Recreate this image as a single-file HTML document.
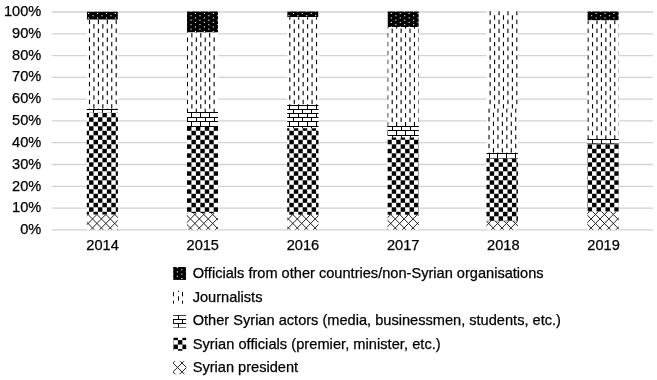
<!DOCTYPE html>
<html><head><meta charset="utf-8"><style>
html,body{margin:0;padding:0;background:#fff;}
body{width:657px;height:380px;overflow:hidden;}
svg{display:block;will-change:transform;}
text{font-family:"Liberation Sans",sans-serif;font-size:14.6px;fill:#000;stroke:#000;stroke-width:0.25px;}
</style></head><body>
<svg width="657" height="380" viewBox="0 0 657 380">
<defs><clipPath id="c1"><rect x="86.8" y="214.5" width="31.1" height="15.35"/></clipPath><clipPath id="c2"><rect x="86.8" y="112.7" width="31.1" height="101.8"/></clipPath><clipPath id="c3"><rect x="86.8" y="109" width="31.1" height="3.7"/></clipPath><clipPath id="c4"><rect x="86.8" y="19.7" width="31.1" height="89.3"/></clipPath><clipPath id="c5"><rect x="86.8" y="11.4" width="31.1" height="8.3"/></clipPath><clipPath id="c6"><rect x="186.9" y="213" width="31.1" height="16.85"/></clipPath><clipPath id="c7"><rect x="186.9" y="127" width="31.1" height="86"/></clipPath><clipPath id="c8"><rect x="186.9" y="112" width="31.1" height="15"/></clipPath><clipPath id="c9"><rect x="186.9" y="32.5" width="31.1" height="80.2"/></clipPath><clipPath id="c10"><rect x="186.9" y="11.3" width="31.1" height="21.2"/></clipPath><clipPath id="c11"><rect x="287.2" y="214.8" width="31.3" height="15.05"/></clipPath><clipPath id="c12"><rect x="287.2" y="128.3" width="31.3" height="86.5"/></clipPath><clipPath id="c13"><rect x="287.2" y="105" width="31.3" height="23.3"/></clipPath><clipPath id="c14"><rect x="287.2" y="17.2" width="31.3" height="88.1"/></clipPath><clipPath id="c15"><rect x="287.2" y="11.3" width="31.3" height="5.9"/></clipPath><clipPath id="c16"><rect x="387.5" y="214.7" width="31.3" height="15.15"/></clipPath><clipPath id="c17"><rect x="387.5" y="137.4" width="31.3" height="77.3"/></clipPath><clipPath id="c18"><rect x="387.5" y="126" width="31.3" height="11.4"/></clipPath><clipPath id="c19"><rect x="387.5" y="27.1" width="31.3" height="99.5"/></clipPath><clipPath id="c20"><rect x="387.5" y="11.3" width="31.3" height="15.8"/></clipPath><clipPath id="c21"><rect x="486.5" y="221.2" width="31.4" height="8.65"/></clipPath><clipPath id="c22"><rect x="486.5" y="158.5" width="31.4" height="62.7"/></clipPath><clipPath id="c23"><rect x="486.5" y="153" width="31.4" height="5.5"/></clipPath><clipPath id="c24"><rect x="486.5" y="11.3" width="31.4" height="97.5"/></clipPath><clipPath id="c25"><rect x="486.5" y="108.8" width="31.4" height="44.6"/></clipPath><clipPath id="c26"><rect x="587.3" y="211.5" width="31.5" height="18.35"/></clipPath><clipPath id="c27"><rect x="587.3" y="143.4" width="31.5" height="68.1"/></clipPath><clipPath id="c28"><rect x="587.3" y="139" width="31.5" height="4.4"/></clipPath><clipPath id="c29"><rect x="587.3" y="20.4" width="31.5" height="118.9"/></clipPath><clipPath id="c30"><rect x="587.3" y="11.3" width="31.5" height="9.1"/></clipPath><clipPath id="c31"><rect x="173.1" y="266.9" width="13.1" height="13"/></clipPath><clipPath id="c32"><rect x="173.1" y="290.8" width="13.1" height="13"/></clipPath><clipPath id="c33"><rect x="173.1" y="315.3" width="13.1" height="12.3"/></clipPath><clipPath id="c34"><rect x="173.1" y="337.8" width="13.1" height="13"/></clipPath><clipPath id="c35"><rect x="173.1" y="361.2" width="13.1" height="13"/></clipPath></defs>
<rect width="657" height="380" fill="#fff"/>
<g><line x1="51.8" y1="12" x2="652.9" y2="12" stroke="#d2d2d2" stroke-width="1.3"/><line x1="51.8" y1="33.78" x2="652.9" y2="33.78" stroke="#d2d2d2" stroke-width="1.3"/><line x1="51.8" y1="55.57" x2="652.9" y2="55.57" stroke="#d2d2d2" stroke-width="1.3"/><line x1="51.8" y1="77.35" x2="652.9" y2="77.35" stroke="#d2d2d2" stroke-width="1.3"/><line x1="51.8" y1="99.14" x2="652.9" y2="99.14" stroke="#d2d2d2" stroke-width="1.3"/><line x1="51.8" y1="120.92" x2="652.9" y2="120.92" stroke="#d2d2d2" stroke-width="1.3"/><line x1="51.8" y1="142.71" x2="652.9" y2="142.71" stroke="#d2d2d2" stroke-width="1.3"/><line x1="51.8" y1="164.5" x2="652.9" y2="164.5" stroke="#d2d2d2" stroke-width="1.3"/><line x1="51.8" y1="186.28" x2="652.9" y2="186.28" stroke="#d2d2d2" stroke-width="1.3"/><line x1="51.8" y1="208.06" x2="652.9" y2="208.06" stroke="#d2d2d2" stroke-width="1.3"/><line x1="51.8" y1="229.85" x2="652.9" y2="229.85" stroke="#d2d2d2" stroke-width="1.3"/></g>
<g shape-rendering="auto"><rect x="86.8" y="11.4" width="31.1" height="218.45" fill="#fff"/><g clip-path="url(#c1)"><path d="M83.6 209.95L92.5 218.95M92.5 209.95L83.6 218.95M92.5 209.95L101.4 218.95M101.4 209.95L92.5 218.95M101.4 209.95L110.31 218.95M110.31 209.95L101.4 218.95M110.31 209.95L119.21 218.95M119.21 209.95L110.31 218.95M83.6 218.95L92.5 227.95M92.5 218.95L83.6 227.95M92.5 218.95L101.4 227.95M101.4 218.95L92.5 227.95M101.4 218.95L110.31 227.95M110.31 218.95L101.4 227.95M110.31 218.95L119.21 227.95M119.21 218.95L110.31 227.95M83.6 227.95L92.5 236.95M92.5 227.95L83.6 236.95M92.5 227.95L101.4 236.95M101.4 227.95L92.5 236.95M101.4 227.95L110.31 236.95M110.31 227.95L101.4 236.95M110.31 227.95L119.21 236.95M119.21 227.95L110.31 236.95" stroke="#222" stroke-width="1.0" fill="none"/></g><g clip-path="url(#c2)"><rect x="89.05" y="108.3" width="4.45" height="4.5"/><rect x="97.95" y="108.3" width="4.45" height="4.5"/><rect x="106.86" y="108.3" width="4.45" height="4.5"/><rect x="115.76" y="108.3" width="4.45" height="4.5"/><rect x="84.6" y="112.8" width="4.45" height="4.5"/><rect x="89.05" y="117.3" width="4.45" height="4.5"/><rect x="93.5" y="112.8" width="4.45" height="4.5"/><rect x="97.95" y="117.3" width="4.45" height="4.5"/><rect x="102.41" y="112.8" width="4.45" height="4.5"/><rect x="106.86" y="117.3" width="4.45" height="4.5"/><rect x="111.31" y="112.8" width="4.45" height="4.5"/><rect x="115.76" y="117.3" width="4.45" height="4.5"/><rect x="84.6" y="121.8" width="4.45" height="4.5"/><rect x="89.05" y="126.3" width="4.45" height="4.5"/><rect x="93.5" y="121.8" width="4.45" height="4.5"/><rect x="97.95" y="126.3" width="4.45" height="4.5"/><rect x="102.41" y="121.8" width="4.45" height="4.5"/><rect x="106.86" y="126.3" width="4.45" height="4.5"/><rect x="111.31" y="121.8" width="4.45" height="4.5"/><rect x="115.76" y="126.3" width="4.45" height="4.5"/><rect x="84.6" y="130.8" width="4.45" height="4.5"/><rect x="89.05" y="135.3" width="4.45" height="4.5"/><rect x="93.5" y="130.8" width="4.45" height="4.5"/><rect x="97.95" y="135.3" width="4.45" height="4.5"/><rect x="102.41" y="130.8" width="4.45" height="4.5"/><rect x="106.86" y="135.3" width="4.45" height="4.5"/><rect x="111.31" y="130.8" width="4.45" height="4.5"/><rect x="115.76" y="135.3" width="4.45" height="4.5"/><rect x="84.6" y="139.8" width="4.45" height="4.5"/><rect x="89.05" y="144.3" width="4.45" height="4.5"/><rect x="93.5" y="139.8" width="4.45" height="4.5"/><rect x="97.95" y="144.3" width="4.45" height="4.5"/><rect x="102.41" y="139.8" width="4.45" height="4.5"/><rect x="106.86" y="144.3" width="4.45" height="4.5"/><rect x="111.31" y="139.8" width="4.45" height="4.5"/><rect x="115.76" y="144.3" width="4.45" height="4.5"/><rect x="84.6" y="148.8" width="4.45" height="4.5"/><rect x="89.05" y="153.3" width="4.45" height="4.5"/><rect x="93.5" y="148.8" width="4.45" height="4.5"/><rect x="97.95" y="153.3" width="4.45" height="4.5"/><rect x="102.41" y="148.8" width="4.45" height="4.5"/><rect x="106.86" y="153.3" width="4.45" height="4.5"/><rect x="111.31" y="148.8" width="4.45" height="4.5"/><rect x="115.76" y="153.3" width="4.45" height="4.5"/><rect x="84.6" y="157.8" width="4.45" height="4.5"/><rect x="89.05" y="162.3" width="4.45" height="4.5"/><rect x="93.5" y="157.8" width="4.45" height="4.5"/><rect x="97.95" y="162.3" width="4.45" height="4.5"/><rect x="102.41" y="157.8" width="4.45" height="4.5"/><rect x="106.86" y="162.3" width="4.45" height="4.5"/><rect x="111.31" y="157.8" width="4.45" height="4.5"/><rect x="115.76" y="162.3" width="4.45" height="4.5"/><rect x="84.6" y="166.8" width="4.45" height="4.5"/><rect x="89.05" y="171.3" width="4.45" height="4.5"/><rect x="93.5" y="166.8" width="4.45" height="4.5"/><rect x="97.95" y="171.3" width="4.45" height="4.5"/><rect x="102.41" y="166.8" width="4.45" height="4.5"/><rect x="106.86" y="171.3" width="4.45" height="4.5"/><rect x="111.31" y="166.8" width="4.45" height="4.5"/><rect x="115.76" y="171.3" width="4.45" height="4.5"/><rect x="84.6" y="175.8" width="4.45" height="4.5"/><rect x="89.05" y="180.3" width="4.45" height="4.5"/><rect x="93.5" y="175.8" width="4.45" height="4.5"/><rect x="97.95" y="180.3" width="4.45" height="4.5"/><rect x="102.41" y="175.8" width="4.45" height="4.5"/><rect x="106.86" y="180.3" width="4.45" height="4.5"/><rect x="111.31" y="175.8" width="4.45" height="4.5"/><rect x="115.76" y="180.3" width="4.45" height="4.5"/><rect x="84.6" y="184.8" width="4.45" height="4.5"/><rect x="89.05" y="189.3" width="4.45" height="4.5"/><rect x="93.5" y="184.8" width="4.45" height="4.5"/><rect x="97.95" y="189.3" width="4.45" height="4.5"/><rect x="102.41" y="184.8" width="4.45" height="4.5"/><rect x="106.86" y="189.3" width="4.45" height="4.5"/><rect x="111.31" y="184.8" width="4.45" height="4.5"/><rect x="115.76" y="189.3" width="4.45" height="4.5"/><rect x="84.6" y="193.8" width="4.45" height="4.5"/><rect x="89.05" y="198.3" width="4.45" height="4.5"/><rect x="93.5" y="193.8" width="4.45" height="4.5"/><rect x="97.95" y="198.3" width="4.45" height="4.5"/><rect x="102.41" y="193.8" width="4.45" height="4.5"/><rect x="106.86" y="198.3" width="4.45" height="4.5"/><rect x="111.31" y="193.8" width="4.45" height="4.5"/><rect x="115.76" y="198.3" width="4.45" height="4.5"/><rect x="84.6" y="202.8" width="4.45" height="4.5"/><rect x="89.05" y="207.3" width="4.45" height="4.5"/><rect x="93.5" y="202.8" width="4.45" height="4.5"/><rect x="97.95" y="207.3" width="4.45" height="4.5"/><rect x="102.41" y="202.8" width="4.45" height="4.5"/><rect x="106.86" y="207.3" width="4.45" height="4.5"/><rect x="111.31" y="202.8" width="4.45" height="4.5"/><rect x="115.76" y="207.3" width="4.45" height="4.5"/><rect x="84.6" y="211.8" width="4.45" height="4.5"/><rect x="93.5" y="211.8" width="4.45" height="4.5"/><rect x="102.41" y="211.8" width="4.45" height="4.5"/><rect x="111.31" y="211.8" width="4.45" height="4.5"/></g><g clip-path="url(#c3)"><rect x="84" y="109" width="9" height="1"/><rect x="93" y="109" width="9" height="1"/><rect x="93" y="109" width="1" height="4"/><rect x="102" y="109" width="9" height="1"/><rect x="102" y="109" width="1" height="4"/><rect x="111" y="109" width="9" height="1"/><rect x="111" y="109" width="1" height="4"/></g><g clip-path="url(#c4)"><rect x="88.94" y="19.7" width="1.11" height="4.45"/><rect x="93.39" y="24.14" width="1.11" height="4.45"/><rect x="97.84" y="19.7" width="1.11" height="4.45"/><rect x="102.29" y="24.14" width="1.11" height="4.45"/><rect x="106.75" y="19.7" width="1.11" height="4.45"/><rect x="111.2" y="24.14" width="1.11" height="4.45"/><rect x="115.65" y="19.7" width="1.11" height="4.45"/><rect x="88.94" y="28.59" width="1.11" height="4.45"/><rect x="93.39" y="33.03" width="1.11" height="4.45"/><rect x="97.84" y="28.59" width="1.11" height="4.45"/><rect x="102.29" y="33.03" width="1.11" height="4.45"/><rect x="106.75" y="28.59" width="1.11" height="4.45"/><rect x="111.2" y="33.03" width="1.11" height="4.45"/><rect x="115.65" y="28.59" width="1.11" height="4.45"/><rect x="88.94" y="37.48" width="1.11" height="4.45"/><rect x="93.39" y="41.93" width="1.11" height="4.45"/><rect x="97.84" y="37.48" width="1.11" height="4.45"/><rect x="102.29" y="41.93" width="1.11" height="4.45"/><rect x="106.75" y="37.48" width="1.11" height="4.45"/><rect x="111.2" y="41.93" width="1.11" height="4.45"/><rect x="115.65" y="37.48" width="1.11" height="4.45"/><rect x="88.94" y="46.37" width="1.11" height="4.45"/><rect x="93.39" y="50.82" width="1.11" height="4.45"/><rect x="97.84" y="46.37" width="1.11" height="4.45"/><rect x="102.29" y="50.82" width="1.11" height="4.45"/><rect x="106.75" y="46.37" width="1.11" height="4.45"/><rect x="111.2" y="50.82" width="1.11" height="4.45"/><rect x="115.65" y="46.37" width="1.11" height="4.45"/><rect x="88.94" y="55.26" width="1.11" height="4.45"/><rect x="93.39" y="59.71" width="1.11" height="4.45"/><rect x="97.84" y="55.26" width="1.11" height="4.45"/><rect x="102.29" y="59.71" width="1.11" height="4.45"/><rect x="106.75" y="55.26" width="1.11" height="4.45"/><rect x="111.2" y="59.71" width="1.11" height="4.45"/><rect x="115.65" y="55.26" width="1.11" height="4.45"/><rect x="88.94" y="64.15" width="1.11" height="4.45"/><rect x="93.39" y="68.59" width="1.11" height="4.45"/><rect x="97.84" y="64.15" width="1.11" height="4.45"/><rect x="102.29" y="68.59" width="1.11" height="4.45"/><rect x="106.75" y="64.15" width="1.11" height="4.45"/><rect x="111.2" y="68.59" width="1.11" height="4.45"/><rect x="115.65" y="64.15" width="1.11" height="4.45"/><rect x="88.94" y="73.04" width="1.11" height="4.45"/><rect x="93.39" y="77.49" width="1.11" height="4.45"/><rect x="97.84" y="73.04" width="1.11" height="4.45"/><rect x="102.29" y="77.49" width="1.11" height="4.45"/><rect x="106.75" y="73.04" width="1.11" height="4.45"/><rect x="111.2" y="77.49" width="1.11" height="4.45"/><rect x="115.65" y="73.04" width="1.11" height="4.45"/><rect x="88.94" y="81.93" width="1.11" height="4.45"/><rect x="93.39" y="86.38" width="1.11" height="4.45"/><rect x="97.84" y="81.93" width="1.11" height="4.45"/><rect x="102.29" y="86.38" width="1.11" height="4.45"/><rect x="106.75" y="81.93" width="1.11" height="4.45"/><rect x="111.2" y="86.38" width="1.11" height="4.45"/><rect x="115.65" y="81.93" width="1.11" height="4.45"/><rect x="88.94" y="90.82" width="1.11" height="4.45"/><rect x="93.39" y="95.27" width="1.11" height="4.45"/><rect x="97.84" y="90.82" width="1.11" height="4.45"/><rect x="102.29" y="95.27" width="1.11" height="4.45"/><rect x="106.75" y="90.82" width="1.11" height="4.45"/><rect x="111.2" y="95.27" width="1.11" height="4.45"/><rect x="115.65" y="90.82" width="1.11" height="4.45"/><rect x="88.94" y="99.71" width="1.11" height="4.45"/><rect x="93.39" y="104.16" width="1.11" height="4.45"/><rect x="97.84" y="99.71" width="1.11" height="4.45"/><rect x="102.29" y="104.16" width="1.11" height="4.45"/><rect x="106.75" y="99.71" width="1.11" height="4.45"/><rect x="111.2" y="104.16" width="1.11" height="4.45"/><rect x="115.65" y="99.71" width="1.11" height="4.45"/><rect x="88.94" y="108.6" width="1.11" height="4.45"/><rect x="97.84" y="108.6" width="1.11" height="4.45"/><rect x="106.75" y="108.6" width="1.11" height="4.45"/><rect x="115.65" y="108.6" width="1.11" height="4.45"/></g><g clip-path="url(#c5)"><rect x="86.8" y="11.4" width="31.1" height="8.3" fill="#000"/><g fill="#fff"><rect x="92.56" y="10.64" width="1.11" height="1.12"/><rect x="101.46" y="10.64" width="1.11" height="1.12"/><rect x="110.36" y="10.64" width="1.11" height="1.12"/><rect x="88.1" y="12.89" width="1.11" height="1.12"/><rect x="88.1" y="17.39" width="1.11" height="1.12"/><rect x="92.56" y="15.14" width="1.11" height="1.12"/><rect x="92.56" y="19.64" width="1.11" height="1.12"/><rect x="97.01" y="12.89" width="1.11" height="1.12"/><rect x="97.01" y="17.39" width="1.11" height="1.12"/><rect x="101.46" y="15.14" width="1.11" height="1.12"/><rect x="101.46" y="19.64" width="1.11" height="1.12"/><rect x="105.91" y="12.89" width="1.11" height="1.12"/><rect x="105.91" y="17.39" width="1.11" height="1.12"/><rect x="110.36" y="15.14" width="1.11" height="1.12"/><rect x="110.36" y="19.64" width="1.11" height="1.12"/><rect x="114.81" y="12.89" width="1.11" height="1.12"/><rect x="114.81" y="17.39" width="1.11" height="1.12"/></g></g><rect x="186.9" y="11.3" width="31.1" height="218.55" fill="#fff"/><g clip-path="url(#c6)"><path d="M181.53 209.95L190.43 218.95M190.43 209.95L181.53 218.95M190.43 209.95L199.34 218.95M199.34 209.95L190.43 218.95M199.34 209.95L208.24 218.95M208.24 209.95L199.34 218.95M208.24 209.95L217.14 218.95M217.14 209.95L208.24 218.95M217.14 209.95L226.04 218.95M226.04 209.95L217.14 218.95M181.53 218.95L190.43 227.95M190.43 218.95L181.53 227.95M190.43 218.95L199.34 227.95M199.34 218.95L190.43 227.95M199.34 218.95L208.24 227.95M208.24 218.95L199.34 227.95M208.24 218.95L217.14 227.95M217.14 218.95L208.24 227.95M217.14 218.95L226.04 227.95M226.04 218.95L217.14 227.95M181.53 227.95L190.43 236.95M190.43 227.95L181.53 236.95M190.43 227.95L199.34 236.95M199.34 227.95L190.43 236.95M199.34 227.95L208.24 236.95M208.24 227.95L199.34 236.95M208.24 227.95L217.14 236.95M217.14 227.95L208.24 236.95M217.14 227.95L226.04 236.95M226.04 227.95L217.14 236.95" stroke="#222" stroke-width="1.0" fill="none"/></g><g clip-path="url(#c7)"><rect x="186.98" y="126.3" width="4.45" height="4.5"/><rect x="195.89" y="126.3" width="4.45" height="4.5"/><rect x="204.79" y="126.3" width="4.45" height="4.5"/><rect x="213.69" y="126.3" width="4.45" height="4.5"/><rect x="182.53" y="130.8" width="4.45" height="4.5"/><rect x="186.98" y="135.3" width="4.45" height="4.5"/><rect x="191.44" y="130.8" width="4.45" height="4.5"/><rect x="195.89" y="135.3" width="4.45" height="4.5"/><rect x="200.34" y="130.8" width="4.45" height="4.5"/><rect x="204.79" y="135.3" width="4.45" height="4.5"/><rect x="209.24" y="130.8" width="4.45" height="4.5"/><rect x="213.69" y="135.3" width="4.45" height="4.5"/><rect x="182.53" y="139.8" width="4.45" height="4.5"/><rect x="186.98" y="144.3" width="4.45" height="4.5"/><rect x="191.44" y="139.8" width="4.45" height="4.5"/><rect x="195.89" y="144.3" width="4.45" height="4.5"/><rect x="200.34" y="139.8" width="4.45" height="4.5"/><rect x="204.79" y="144.3" width="4.45" height="4.5"/><rect x="209.24" y="139.8" width="4.45" height="4.5"/><rect x="213.69" y="144.3" width="4.45" height="4.5"/><rect x="182.53" y="148.8" width="4.45" height="4.5"/><rect x="186.98" y="153.3" width="4.45" height="4.5"/><rect x="191.44" y="148.8" width="4.45" height="4.5"/><rect x="195.89" y="153.3" width="4.45" height="4.5"/><rect x="200.34" y="148.8" width="4.45" height="4.5"/><rect x="204.79" y="153.3" width="4.45" height="4.5"/><rect x="209.24" y="148.8" width="4.45" height="4.5"/><rect x="213.69" y="153.3" width="4.45" height="4.5"/><rect x="182.53" y="157.8" width="4.45" height="4.5"/><rect x="186.98" y="162.3" width="4.45" height="4.5"/><rect x="191.44" y="157.8" width="4.45" height="4.5"/><rect x="195.89" y="162.3" width="4.45" height="4.5"/><rect x="200.34" y="157.8" width="4.45" height="4.5"/><rect x="204.79" y="162.3" width="4.45" height="4.5"/><rect x="209.24" y="157.8" width="4.45" height="4.5"/><rect x="213.69" y="162.3" width="4.45" height="4.5"/><rect x="182.53" y="166.8" width="4.45" height="4.5"/><rect x="186.98" y="171.3" width="4.45" height="4.5"/><rect x="191.44" y="166.8" width="4.45" height="4.5"/><rect x="195.89" y="171.3" width="4.45" height="4.5"/><rect x="200.34" y="166.8" width="4.45" height="4.5"/><rect x="204.79" y="171.3" width="4.45" height="4.5"/><rect x="209.24" y="166.8" width="4.45" height="4.5"/><rect x="213.69" y="171.3" width="4.45" height="4.5"/><rect x="182.53" y="175.8" width="4.45" height="4.5"/><rect x="186.98" y="180.3" width="4.45" height="4.5"/><rect x="191.44" y="175.8" width="4.45" height="4.5"/><rect x="195.89" y="180.3" width="4.45" height="4.5"/><rect x="200.34" y="175.8" width="4.45" height="4.5"/><rect x="204.79" y="180.3" width="4.45" height="4.5"/><rect x="209.24" y="175.8" width="4.45" height="4.5"/><rect x="213.69" y="180.3" width="4.45" height="4.5"/><rect x="182.53" y="184.8" width="4.45" height="4.5"/><rect x="186.98" y="189.3" width="4.45" height="4.5"/><rect x="191.44" y="184.8" width="4.45" height="4.5"/><rect x="195.89" y="189.3" width="4.45" height="4.5"/><rect x="200.34" y="184.8" width="4.45" height="4.5"/><rect x="204.79" y="189.3" width="4.45" height="4.5"/><rect x="209.24" y="184.8" width="4.45" height="4.5"/><rect x="213.69" y="189.3" width="4.45" height="4.5"/><rect x="182.53" y="193.8" width="4.45" height="4.5"/><rect x="186.98" y="198.3" width="4.45" height="4.5"/><rect x="191.44" y="193.8" width="4.45" height="4.5"/><rect x="195.89" y="198.3" width="4.45" height="4.5"/><rect x="200.34" y="193.8" width="4.45" height="4.5"/><rect x="204.79" y="198.3" width="4.45" height="4.5"/><rect x="209.24" y="193.8" width="4.45" height="4.5"/><rect x="213.69" y="198.3" width="4.45" height="4.5"/><rect x="182.53" y="202.8" width="4.45" height="4.5"/><rect x="186.98" y="207.3" width="4.45" height="4.5"/><rect x="191.44" y="202.8" width="4.45" height="4.5"/><rect x="195.89" y="207.3" width="4.45" height="4.5"/><rect x="200.34" y="202.8" width="4.45" height="4.5"/><rect x="204.79" y="207.3" width="4.45" height="4.5"/><rect x="209.24" y="202.8" width="4.45" height="4.5"/><rect x="213.69" y="207.3" width="4.45" height="4.5"/><rect x="182.53" y="211.8" width="4.45" height="4.5"/><rect x="191.44" y="211.8" width="4.45" height="4.5"/><rect x="200.34" y="211.8" width="4.45" height="4.5"/><rect x="209.24" y="211.8" width="4.45" height="4.5"/></g><g clip-path="url(#c8)"><rect x="187" y="108" width="1" height="5"/><rect x="196" y="108" width="1" height="5"/><rect x="205" y="108" width="1" height="5"/><rect x="214" y="108" width="1" height="5"/><rect x="183" y="112" width="8" height="1"/><rect x="183" y="117" width="8" height="1"/><rect x="187" y="117" width="1" height="5"/><rect x="191" y="112" width="9" height="1"/><rect x="191" y="113" width="1" height="4"/><rect x="191" y="117" width="9" height="1"/><rect x="196" y="117" width="1" height="5"/><rect x="200" y="112" width="9" height="1"/><rect x="200" y="113" width="1" height="4"/><rect x="200" y="117" width="9" height="1"/><rect x="205" y="117" width="1" height="5"/><rect x="209" y="112" width="9" height="1"/><rect x="209" y="113" width="1" height="4"/><rect x="209" y="117" width="9" height="1"/><rect x="214" y="117" width="1" height="5"/><rect x="183" y="121" width="8" height="1"/><rect x="183" y="126" width="8" height="1"/><rect x="187" y="126" width="1" height="5"/><rect x="191" y="121" width="9" height="1"/><rect x="191" y="122" width="1" height="4"/><rect x="191" y="126" width="9" height="1"/><rect x="196" y="126" width="1" height="5"/><rect x="200" y="121" width="9" height="1"/><rect x="200" y="122" width="1" height="4"/><rect x="200" y="126" width="9" height="1"/><rect x="205" y="126" width="1" height="5"/><rect x="209" y="121" width="9" height="1"/><rect x="209" y="122" width="1" height="4"/><rect x="209" y="126" width="9" height="1"/><rect x="214" y="126" width="1" height="5"/></g><g clip-path="url(#c9)"><rect x="186.87" y="28.59" width="1.11" height="4.45"/><rect x="191.32" y="33.03" width="1.11" height="4.45"/><rect x="195.78" y="28.59" width="1.11" height="4.45"/><rect x="200.23" y="33.03" width="1.11" height="4.45"/><rect x="204.68" y="28.59" width="1.11" height="4.45"/><rect x="209.13" y="33.03" width="1.11" height="4.45"/><rect x="213.58" y="28.59" width="1.11" height="4.45"/><rect x="186.87" y="37.48" width="1.11" height="4.45"/><rect x="191.32" y="41.93" width="1.11" height="4.45"/><rect x="195.78" y="37.48" width="1.11" height="4.45"/><rect x="200.23" y="41.93" width="1.11" height="4.45"/><rect x="204.68" y="37.48" width="1.11" height="4.45"/><rect x="209.13" y="41.93" width="1.11" height="4.45"/><rect x="213.58" y="37.48" width="1.11" height="4.45"/><rect x="186.87" y="46.37" width="1.11" height="4.45"/><rect x="191.32" y="50.82" width="1.11" height="4.45"/><rect x="195.78" y="46.37" width="1.11" height="4.45"/><rect x="200.23" y="50.82" width="1.11" height="4.45"/><rect x="204.68" y="46.37" width="1.11" height="4.45"/><rect x="209.13" y="50.82" width="1.11" height="4.45"/><rect x="213.58" y="46.37" width="1.11" height="4.45"/><rect x="186.87" y="55.26" width="1.11" height="4.45"/><rect x="191.32" y="59.71" width="1.11" height="4.45"/><rect x="195.78" y="55.26" width="1.11" height="4.45"/><rect x="200.23" y="59.71" width="1.11" height="4.45"/><rect x="204.68" y="55.26" width="1.11" height="4.45"/><rect x="209.13" y="59.71" width="1.11" height="4.45"/><rect x="213.58" y="55.26" width="1.11" height="4.45"/><rect x="186.87" y="64.15" width="1.11" height="4.45"/><rect x="191.32" y="68.59" width="1.11" height="4.45"/><rect x="195.78" y="64.15" width="1.11" height="4.45"/><rect x="200.23" y="68.59" width="1.11" height="4.45"/><rect x="204.68" y="64.15" width="1.11" height="4.45"/><rect x="209.13" y="68.59" width="1.11" height="4.45"/><rect x="213.58" y="64.15" width="1.11" height="4.45"/><rect x="186.87" y="73.04" width="1.11" height="4.45"/><rect x="191.32" y="77.49" width="1.11" height="4.45"/><rect x="195.78" y="73.04" width="1.11" height="4.45"/><rect x="200.23" y="77.49" width="1.11" height="4.45"/><rect x="204.68" y="73.04" width="1.11" height="4.45"/><rect x="209.13" y="77.49" width="1.11" height="4.45"/><rect x="213.58" y="73.04" width="1.11" height="4.45"/><rect x="186.87" y="81.93" width="1.11" height="4.45"/><rect x="191.32" y="86.38" width="1.11" height="4.45"/><rect x="195.78" y="81.93" width="1.11" height="4.45"/><rect x="200.23" y="86.38" width="1.11" height="4.45"/><rect x="204.68" y="81.93" width="1.11" height="4.45"/><rect x="209.13" y="86.38" width="1.11" height="4.45"/><rect x="213.58" y="81.93" width="1.11" height="4.45"/><rect x="186.87" y="90.82" width="1.11" height="4.45"/><rect x="191.32" y="95.27" width="1.11" height="4.45"/><rect x="195.78" y="90.82" width="1.11" height="4.45"/><rect x="200.23" y="95.27" width="1.11" height="4.45"/><rect x="204.68" y="90.82" width="1.11" height="4.45"/><rect x="209.13" y="95.27" width="1.11" height="4.45"/><rect x="213.58" y="90.82" width="1.11" height="4.45"/><rect x="186.87" y="99.71" width="1.11" height="4.45"/><rect x="191.32" y="104.16" width="1.11" height="4.45"/><rect x="195.78" y="99.71" width="1.11" height="4.45"/><rect x="200.23" y="104.16" width="1.11" height="4.45"/><rect x="204.68" y="99.71" width="1.11" height="4.45"/><rect x="209.13" y="104.16" width="1.11" height="4.45"/><rect x="213.58" y="99.71" width="1.11" height="4.45"/><rect x="186.87" y="108.6" width="1.11" height="4.45"/><rect x="195.78" y="108.6" width="1.11" height="4.45"/><rect x="204.68" y="108.6" width="1.11" height="4.45"/><rect x="213.58" y="108.6" width="1.11" height="4.45"/></g><g clip-path="url(#c10)"><rect x="186.9" y="11.3" width="31.1" height="21.2" fill="#000"/><g fill="#fff"><rect x="190.49" y="10.64" width="1.11" height="1.12"/><rect x="199.39" y="10.64" width="1.11" height="1.12"/><rect x="208.29" y="10.64" width="1.11" height="1.12"/><rect x="217.2" y="10.64" width="1.11" height="1.12"/><rect x="186.04" y="12.89" width="1.11" height="1.12"/><rect x="186.04" y="17.39" width="1.11" height="1.12"/><rect x="190.49" y="15.14" width="1.11" height="1.12"/><rect x="190.49" y="19.64" width="1.11" height="1.12"/><rect x="194.94" y="12.89" width="1.11" height="1.12"/><rect x="194.94" y="17.39" width="1.11" height="1.12"/><rect x="199.39" y="15.14" width="1.11" height="1.12"/><rect x="199.39" y="19.64" width="1.11" height="1.12"/><rect x="203.84" y="12.89" width="1.11" height="1.12"/><rect x="203.84" y="17.39" width="1.11" height="1.12"/><rect x="208.29" y="15.14" width="1.11" height="1.12"/><rect x="208.29" y="19.64" width="1.11" height="1.12"/><rect x="212.75" y="12.89" width="1.11" height="1.12"/><rect x="212.75" y="17.39" width="1.11" height="1.12"/><rect x="217.2" y="15.14" width="1.11" height="1.12"/><rect x="217.2" y="19.64" width="1.11" height="1.12"/><rect x="186.04" y="21.89" width="1.11" height="1.12"/><rect x="186.04" y="26.39" width="1.11" height="1.12"/><rect x="190.49" y="24.14" width="1.11" height="1.12"/><rect x="190.49" y="28.64" width="1.11" height="1.12"/><rect x="194.94" y="21.89" width="1.11" height="1.12"/><rect x="194.94" y="26.39" width="1.11" height="1.12"/><rect x="199.39" y="24.14" width="1.11" height="1.12"/><rect x="199.39" y="28.64" width="1.11" height="1.12"/><rect x="203.84" y="21.89" width="1.11" height="1.12"/><rect x="203.84" y="26.39" width="1.11" height="1.12"/><rect x="208.29" y="24.14" width="1.11" height="1.12"/><rect x="208.29" y="28.64" width="1.11" height="1.12"/><rect x="212.75" y="21.89" width="1.11" height="1.12"/><rect x="212.75" y="26.39" width="1.11" height="1.12"/><rect x="217.2" y="24.14" width="1.11" height="1.12"/><rect x="217.2" y="28.64" width="1.11" height="1.12"/><rect x="186.04" y="30.89" width="1.11" height="1.12"/><rect x="194.94" y="30.89" width="1.11" height="1.12"/><rect x="203.84" y="30.89" width="1.11" height="1.12"/><rect x="212.75" y="30.89" width="1.11" height="1.12"/></g></g><rect x="287.2" y="11.3" width="31.3" height="218.55" fill="#fff"/><g clip-path="url(#c11)"><path d="M279.46 209.95L288.37 218.95M288.37 209.95L279.46 218.95M288.37 209.95L297.27 218.95M297.27 209.95L288.37 218.95M297.27 209.95L306.17 218.95M306.17 209.95L297.27 218.95M306.17 209.95L315.08 218.95M315.08 209.95L306.17 218.95M315.08 209.95L323.98 218.95M323.98 209.95L315.08 218.95M279.46 218.95L288.37 227.95M288.37 218.95L279.46 227.95M288.37 218.95L297.27 227.95M297.27 218.95L288.37 227.95M297.27 218.95L306.17 227.95M306.17 218.95L297.27 227.95M306.17 218.95L315.08 227.95M315.08 218.95L306.17 227.95M315.08 218.95L323.98 227.95M323.98 218.95L315.08 227.95M279.46 227.95L288.37 236.95M288.37 227.95L279.46 236.95M288.37 227.95L297.27 236.95M297.27 227.95L288.37 236.95M297.27 227.95L306.17 236.95M306.17 227.95L297.27 236.95M306.17 227.95L315.08 236.95M315.08 227.95L306.17 236.95M315.08 227.95L323.98 236.95M323.98 227.95L315.08 236.95" stroke="#222" stroke-width="1.0" fill="none"/></g><g clip-path="url(#c12)"><rect x="284.92" y="126.3" width="4.45" height="4.5"/><rect x="293.82" y="126.3" width="4.45" height="4.5"/><rect x="302.72" y="126.3" width="4.45" height="4.5"/><rect x="311.63" y="126.3" width="4.45" height="4.5"/><rect x="284.92" y="135.3" width="4.45" height="4.5"/><rect x="289.37" y="130.8" width="4.45" height="4.5"/><rect x="293.82" y="135.3" width="4.45" height="4.5"/><rect x="298.27" y="130.8" width="4.45" height="4.5"/><rect x="302.72" y="135.3" width="4.45" height="4.5"/><rect x="307.18" y="130.8" width="4.45" height="4.5"/><rect x="311.63" y="135.3" width="4.45" height="4.5"/><rect x="316.08" y="130.8" width="4.45" height="4.5"/><rect x="284.92" y="144.3" width="4.45" height="4.5"/><rect x="289.37" y="139.8" width="4.45" height="4.5"/><rect x="293.82" y="144.3" width="4.45" height="4.5"/><rect x="298.27" y="139.8" width="4.45" height="4.5"/><rect x="302.72" y="144.3" width="4.45" height="4.5"/><rect x="307.18" y="139.8" width="4.45" height="4.5"/><rect x="311.63" y="144.3" width="4.45" height="4.5"/><rect x="316.08" y="139.8" width="4.45" height="4.5"/><rect x="284.92" y="153.3" width="4.45" height="4.5"/><rect x="289.37" y="148.8" width="4.45" height="4.5"/><rect x="293.82" y="153.3" width="4.45" height="4.5"/><rect x="298.27" y="148.8" width="4.45" height="4.5"/><rect x="302.72" y="153.3" width="4.45" height="4.5"/><rect x="307.18" y="148.8" width="4.45" height="4.5"/><rect x="311.63" y="153.3" width="4.45" height="4.5"/><rect x="316.08" y="148.8" width="4.45" height="4.5"/><rect x="284.92" y="162.3" width="4.45" height="4.5"/><rect x="289.37" y="157.8" width="4.45" height="4.5"/><rect x="293.82" y="162.3" width="4.45" height="4.5"/><rect x="298.27" y="157.8" width="4.45" height="4.5"/><rect x="302.72" y="162.3" width="4.45" height="4.5"/><rect x="307.18" y="157.8" width="4.45" height="4.5"/><rect x="311.63" y="162.3" width="4.45" height="4.5"/><rect x="316.08" y="157.8" width="4.45" height="4.5"/><rect x="284.92" y="171.3" width="4.45" height="4.5"/><rect x="289.37" y="166.8" width="4.45" height="4.5"/><rect x="293.82" y="171.3" width="4.45" height="4.5"/><rect x="298.27" y="166.8" width="4.45" height="4.5"/><rect x="302.72" y="171.3" width="4.45" height="4.5"/><rect x="307.18" y="166.8" width="4.45" height="4.5"/><rect x="311.63" y="171.3" width="4.45" height="4.5"/><rect x="316.08" y="166.8" width="4.45" height="4.5"/><rect x="284.92" y="180.3" width="4.45" height="4.5"/><rect x="289.37" y="175.8" width="4.45" height="4.5"/><rect x="293.82" y="180.3" width="4.45" height="4.5"/><rect x="298.27" y="175.8" width="4.45" height="4.5"/><rect x="302.72" y="180.3" width="4.45" height="4.5"/><rect x="307.18" y="175.8" width="4.45" height="4.5"/><rect x="311.63" y="180.3" width="4.45" height="4.5"/><rect x="316.08" y="175.8" width="4.45" height="4.5"/><rect x="284.92" y="189.3" width="4.45" height="4.5"/><rect x="289.37" y="184.8" width="4.45" height="4.5"/><rect x="293.82" y="189.3" width="4.45" height="4.5"/><rect x="298.27" y="184.8" width="4.45" height="4.5"/><rect x="302.72" y="189.3" width="4.45" height="4.5"/><rect x="307.18" y="184.8" width="4.45" height="4.5"/><rect x="311.63" y="189.3" width="4.45" height="4.5"/><rect x="316.08" y="184.8" width="4.45" height="4.5"/><rect x="284.92" y="198.3" width="4.45" height="4.5"/><rect x="289.37" y="193.8" width="4.45" height="4.5"/><rect x="293.82" y="198.3" width="4.45" height="4.5"/><rect x="298.27" y="193.8" width="4.45" height="4.5"/><rect x="302.72" y="198.3" width="4.45" height="4.5"/><rect x="307.18" y="193.8" width="4.45" height="4.5"/><rect x="311.63" y="198.3" width="4.45" height="4.5"/><rect x="316.08" y="193.8" width="4.45" height="4.5"/><rect x="284.92" y="207.3" width="4.45" height="4.5"/><rect x="289.37" y="202.8" width="4.45" height="4.5"/><rect x="293.82" y="207.3" width="4.45" height="4.5"/><rect x="298.27" y="202.8" width="4.45" height="4.5"/><rect x="302.72" y="207.3" width="4.45" height="4.5"/><rect x="307.18" y="202.8" width="4.45" height="4.5"/><rect x="311.63" y="207.3" width="4.45" height="4.5"/><rect x="316.08" y="202.8" width="4.45" height="4.5"/><rect x="289.37" y="211.8" width="4.45" height="4.5"/><rect x="298.27" y="211.8" width="4.45" height="4.5"/><rect x="307.18" y="211.8" width="4.45" height="4.5"/><rect x="316.08" y="211.8" width="4.45" height="4.5"/></g><g clip-path="url(#c13)"><rect x="280" y="105" width="9" height="1"/><rect x="280" y="109" width="9" height="1"/><rect x="289" y="105" width="9" height="1"/><rect x="289" y="105" width="1" height="4"/><rect x="289" y="109" width="9" height="1"/><rect x="293" y="109" width="1" height="5"/><rect x="298" y="105" width="9" height="1"/><rect x="298" y="105" width="1" height="4"/><rect x="298" y="109" width="9" height="1"/><rect x="302" y="109" width="1" height="5"/><rect x="307" y="105" width="9" height="1"/><rect x="307" y="105" width="1" height="4"/><rect x="307" y="109" width="9" height="1"/><rect x="311" y="109" width="1" height="5"/><rect x="316" y="105" width="9" height="1"/><rect x="316" y="105" width="1" height="4"/><rect x="316" y="109" width="9" height="1"/><rect x="280" y="113" width="9" height="1"/><rect x="280" y="117" width="9" height="1"/><rect x="289" y="113" width="9" height="1"/><rect x="289" y="114" width="1" height="4"/><rect x="289" y="117" width="9" height="1"/><rect x="293" y="118" width="1" height="4"/><rect x="298" y="113" width="9" height="1"/><rect x="298" y="114" width="1" height="4"/><rect x="298" y="117" width="9" height="1"/><rect x="302" y="118" width="1" height="4"/><rect x="307" y="113" width="9" height="1"/><rect x="307" y="114" width="1" height="4"/><rect x="307" y="117" width="9" height="1"/><rect x="311" y="118" width="1" height="4"/><rect x="316" y="113" width="9" height="1"/><rect x="316" y="114" width="1" height="4"/><rect x="316" y="117" width="9" height="1"/><rect x="280" y="121" width="9" height="1"/><rect x="280" y="126" width="9" height="1"/><rect x="289" y="121" width="9" height="1"/><rect x="289" y="122" width="1" height="4"/><rect x="289" y="126" width="9" height="1"/><rect x="293" y="126" width="1" height="4"/><rect x="298" y="121" width="9" height="1"/><rect x="298" y="122" width="1" height="4"/><rect x="298" y="126" width="9" height="1"/><rect x="302" y="126" width="1" height="4"/><rect x="307" y="121" width="9" height="1"/><rect x="307" y="122" width="1" height="4"/><rect x="307" y="126" width="9" height="1"/><rect x="311" y="126" width="1" height="4"/><rect x="316" y="121" width="9" height="1"/><rect x="316" y="122" width="1" height="4"/><rect x="316" y="126" width="9" height="1"/></g><g clip-path="url(#c14)"><rect x="289.26" y="15.25" width="1.11" height="4.45"/><rect x="298.16" y="15.25" width="1.11" height="4.45"/><rect x="307.06" y="15.25" width="1.11" height="4.45"/><rect x="315.97" y="15.25" width="1.11" height="4.45"/><rect x="289.26" y="24.14" width="1.11" height="4.45"/><rect x="293.71" y="19.7" width="1.11" height="4.45"/><rect x="298.16" y="24.14" width="1.11" height="4.45"/><rect x="302.61" y="19.7" width="1.11" height="4.45"/><rect x="307.06" y="24.14" width="1.11" height="4.45"/><rect x="311.51" y="19.7" width="1.11" height="4.45"/><rect x="315.97" y="24.14" width="1.11" height="4.45"/><rect x="289.26" y="33.03" width="1.11" height="4.45"/><rect x="293.71" y="28.59" width="1.11" height="4.45"/><rect x="298.16" y="33.03" width="1.11" height="4.45"/><rect x="302.61" y="28.59" width="1.11" height="4.45"/><rect x="307.06" y="33.03" width="1.11" height="4.45"/><rect x="311.51" y="28.59" width="1.11" height="4.45"/><rect x="315.97" y="33.03" width="1.11" height="4.45"/><rect x="289.26" y="41.93" width="1.11" height="4.45"/><rect x="293.71" y="37.48" width="1.11" height="4.45"/><rect x="298.16" y="41.93" width="1.11" height="4.45"/><rect x="302.61" y="37.48" width="1.11" height="4.45"/><rect x="307.06" y="41.93" width="1.11" height="4.45"/><rect x="311.51" y="37.48" width="1.11" height="4.45"/><rect x="315.97" y="41.93" width="1.11" height="4.45"/><rect x="289.26" y="50.82" width="1.11" height="4.45"/><rect x="293.71" y="46.37" width="1.11" height="4.45"/><rect x="298.16" y="50.82" width="1.11" height="4.45"/><rect x="302.61" y="46.37" width="1.11" height="4.45"/><rect x="307.06" y="50.82" width="1.11" height="4.45"/><rect x="311.51" y="46.37" width="1.11" height="4.45"/><rect x="315.97" y="50.82" width="1.11" height="4.45"/><rect x="289.26" y="59.71" width="1.11" height="4.45"/><rect x="293.71" y="55.26" width="1.11" height="4.45"/><rect x="298.16" y="59.71" width="1.11" height="4.45"/><rect x="302.61" y="55.26" width="1.11" height="4.45"/><rect x="307.06" y="59.71" width="1.11" height="4.45"/><rect x="311.51" y="55.26" width="1.11" height="4.45"/><rect x="315.97" y="59.71" width="1.11" height="4.45"/><rect x="289.26" y="68.59" width="1.11" height="4.45"/><rect x="293.71" y="64.15" width="1.11" height="4.45"/><rect x="298.16" y="68.59" width="1.11" height="4.45"/><rect x="302.61" y="64.15" width="1.11" height="4.45"/><rect x="307.06" y="68.59" width="1.11" height="4.45"/><rect x="311.51" y="64.15" width="1.11" height="4.45"/><rect x="315.97" y="68.59" width="1.11" height="4.45"/><rect x="289.26" y="77.49" width="1.11" height="4.45"/><rect x="293.71" y="73.04" width="1.11" height="4.45"/><rect x="298.16" y="77.49" width="1.11" height="4.45"/><rect x="302.61" y="73.04" width="1.11" height="4.45"/><rect x="307.06" y="77.49" width="1.11" height="4.45"/><rect x="311.51" y="73.04" width="1.11" height="4.45"/><rect x="315.97" y="77.49" width="1.11" height="4.45"/><rect x="289.26" y="86.38" width="1.11" height="4.45"/><rect x="293.71" y="81.93" width="1.11" height="4.45"/><rect x="298.16" y="86.38" width="1.11" height="4.45"/><rect x="302.61" y="81.93" width="1.11" height="4.45"/><rect x="307.06" y="86.38" width="1.11" height="4.45"/><rect x="311.51" y="81.93" width="1.11" height="4.45"/><rect x="315.97" y="86.38" width="1.11" height="4.45"/><rect x="289.26" y="95.27" width="1.11" height="4.45"/><rect x="293.71" y="90.82" width="1.11" height="4.45"/><rect x="298.16" y="95.27" width="1.11" height="4.45"/><rect x="302.61" y="90.82" width="1.11" height="4.45"/><rect x="307.06" y="95.27" width="1.11" height="4.45"/><rect x="311.51" y="90.82" width="1.11" height="4.45"/><rect x="315.97" y="95.27" width="1.11" height="4.45"/><rect x="289.26" y="104.16" width="1.11" height="4.45"/><rect x="293.71" y="99.71" width="1.11" height="4.45"/><rect x="298.16" y="104.16" width="1.11" height="4.45"/><rect x="302.61" y="99.71" width="1.11" height="4.45"/><rect x="307.06" y="104.16" width="1.11" height="4.45"/><rect x="311.51" y="99.71" width="1.11" height="4.45"/><rect x="315.97" y="104.16" width="1.11" height="4.45"/></g><g clip-path="url(#c15)"><rect x="287.2" y="11.3" width="31.3" height="5.9" fill="#000"/><g fill="#fff"><rect x="288.42" y="10.64" width="1.11" height="1.12"/><rect x="297.32" y="10.64" width="1.11" height="1.12"/><rect x="306.23" y="10.64" width="1.11" height="1.12"/><rect x="315.13" y="10.64" width="1.11" height="1.12"/><rect x="288.42" y="15.14" width="1.11" height="1.12"/><rect x="292.87" y="12.89" width="1.11" height="1.12"/><rect x="297.32" y="15.14" width="1.11" height="1.12"/><rect x="301.78" y="12.89" width="1.11" height="1.12"/><rect x="306.23" y="15.14" width="1.11" height="1.12"/><rect x="310.68" y="12.89" width="1.11" height="1.12"/><rect x="315.13" y="15.14" width="1.11" height="1.12"/></g></g><rect x="387.5" y="11.3" width="31.3" height="218.55" fill="#fff"/><g clip-path="url(#c16)"><path d="M386.3 209.95L395.2 218.95M395.2 209.95L386.3 218.95M395.2 209.95L404.11 218.95M404.11 209.95L395.2 218.95M404.11 209.95L413.01 218.95M413.01 209.95L404.11 218.95M413.01 209.95L421.91 218.95M421.91 209.95L413.01 218.95M386.3 218.95L395.2 227.95M395.2 218.95L386.3 227.95M395.2 218.95L404.11 227.95M404.11 218.95L395.2 227.95M404.11 218.95L413.01 227.95M413.01 218.95L404.11 227.95M413.01 218.95L421.91 227.95M421.91 218.95L413.01 227.95M386.3 227.95L395.2 236.95M395.2 227.95L386.3 236.95M395.2 227.95L404.11 236.95M404.11 227.95L395.2 236.95M404.11 227.95L413.01 236.95M413.01 227.95L404.11 236.95M413.01 227.95L421.91 236.95M421.91 227.95L413.01 236.95" stroke="#222" stroke-width="1.0" fill="none"/></g><g clip-path="url(#c17)"><rect x="391.75" y="135.3" width="4.45" height="4.5"/><rect x="400.66" y="135.3" width="4.45" height="4.5"/><rect x="409.56" y="135.3" width="4.45" height="4.5"/><rect x="418.46" y="135.3" width="4.45" height="4.5"/><rect x="387.3" y="139.8" width="4.45" height="4.5"/><rect x="391.75" y="144.3" width="4.45" height="4.5"/><rect x="396.21" y="139.8" width="4.45" height="4.5"/><rect x="400.66" y="144.3" width="4.45" height="4.5"/><rect x="405.11" y="139.8" width="4.45" height="4.5"/><rect x="409.56" y="144.3" width="4.45" height="4.5"/><rect x="414.01" y="139.8" width="4.45" height="4.5"/><rect x="418.46" y="144.3" width="4.45" height="4.5"/><rect x="387.3" y="148.8" width="4.45" height="4.5"/><rect x="391.75" y="153.3" width="4.45" height="4.5"/><rect x="396.21" y="148.8" width="4.45" height="4.5"/><rect x="400.66" y="153.3" width="4.45" height="4.5"/><rect x="405.11" y="148.8" width="4.45" height="4.5"/><rect x="409.56" y="153.3" width="4.45" height="4.5"/><rect x="414.01" y="148.8" width="4.45" height="4.5"/><rect x="418.46" y="153.3" width="4.45" height="4.5"/><rect x="387.3" y="157.8" width="4.45" height="4.5"/><rect x="391.75" y="162.3" width="4.45" height="4.5"/><rect x="396.21" y="157.8" width="4.45" height="4.5"/><rect x="400.66" y="162.3" width="4.45" height="4.5"/><rect x="405.11" y="157.8" width="4.45" height="4.5"/><rect x="409.56" y="162.3" width="4.45" height="4.5"/><rect x="414.01" y="157.8" width="4.45" height="4.5"/><rect x="418.46" y="162.3" width="4.45" height="4.5"/><rect x="387.3" y="166.8" width="4.45" height="4.5"/><rect x="391.75" y="171.3" width="4.45" height="4.5"/><rect x="396.21" y="166.8" width="4.45" height="4.5"/><rect x="400.66" y="171.3" width="4.45" height="4.5"/><rect x="405.11" y="166.8" width="4.45" height="4.5"/><rect x="409.56" y="171.3" width="4.45" height="4.5"/><rect x="414.01" y="166.8" width="4.45" height="4.5"/><rect x="418.46" y="171.3" width="4.45" height="4.5"/><rect x="387.3" y="175.8" width="4.45" height="4.5"/><rect x="391.75" y="180.3" width="4.45" height="4.5"/><rect x="396.21" y="175.8" width="4.45" height="4.5"/><rect x="400.66" y="180.3" width="4.45" height="4.5"/><rect x="405.11" y="175.8" width="4.45" height="4.5"/><rect x="409.56" y="180.3" width="4.45" height="4.5"/><rect x="414.01" y="175.8" width="4.45" height="4.5"/><rect x="418.46" y="180.3" width="4.45" height="4.5"/><rect x="387.3" y="184.8" width="4.45" height="4.5"/><rect x="391.75" y="189.3" width="4.45" height="4.5"/><rect x="396.21" y="184.8" width="4.45" height="4.5"/><rect x="400.66" y="189.3" width="4.45" height="4.5"/><rect x="405.11" y="184.8" width="4.45" height="4.5"/><rect x="409.56" y="189.3" width="4.45" height="4.5"/><rect x="414.01" y="184.8" width="4.45" height="4.5"/><rect x="418.46" y="189.3" width="4.45" height="4.5"/><rect x="387.3" y="193.8" width="4.45" height="4.5"/><rect x="391.75" y="198.3" width="4.45" height="4.5"/><rect x="396.21" y="193.8" width="4.45" height="4.5"/><rect x="400.66" y="198.3" width="4.45" height="4.5"/><rect x="405.11" y="193.8" width="4.45" height="4.5"/><rect x="409.56" y="198.3" width="4.45" height="4.5"/><rect x="414.01" y="193.8" width="4.45" height="4.5"/><rect x="418.46" y="198.3" width="4.45" height="4.5"/><rect x="387.3" y="202.8" width="4.45" height="4.5"/><rect x="391.75" y="207.3" width="4.45" height="4.5"/><rect x="396.21" y="202.8" width="4.45" height="4.5"/><rect x="400.66" y="207.3" width="4.45" height="4.5"/><rect x="405.11" y="202.8" width="4.45" height="4.5"/><rect x="409.56" y="207.3" width="4.45" height="4.5"/><rect x="414.01" y="202.8" width="4.45" height="4.5"/><rect x="418.46" y="207.3" width="4.45" height="4.5"/><rect x="387.3" y="211.8" width="4.45" height="4.5"/><rect x="396.21" y="211.8" width="4.45" height="4.5"/><rect x="405.11" y="211.8" width="4.45" height="4.5"/><rect x="414.01" y="211.8" width="4.45" height="4.5"/></g><g clip-path="url(#c18)"><rect x="387" y="122" width="1" height="5"/><rect x="396" y="122" width="1" height="5"/><rect x="405" y="122" width="1" height="5"/><rect x="414" y="122" width="1" height="5"/><rect x="383" y="126" width="9" height="1"/><rect x="383" y="130" width="9" height="1"/><rect x="387" y="131" width="1" height="4"/><rect x="392" y="126" width="9" height="1"/><rect x="392" y="127" width="1" height="4"/><rect x="392" y="130" width="9" height="1"/><rect x="396" y="131" width="1" height="4"/><rect x="401" y="126" width="9" height="1"/><rect x="401" y="127" width="1" height="4"/><rect x="401" y="130" width="9" height="1"/><rect x="405" y="131" width="1" height="4"/><rect x="410" y="126" width="8" height="1"/><rect x="410" y="127" width="1" height="4"/><rect x="410" y="130" width="8" height="1"/><rect x="414" y="131" width="1" height="4"/><rect x="418" y="126" width="9" height="1"/><rect x="418" y="130" width="9" height="1"/><rect x="383" y="135" width="9" height="1"/><rect x="392" y="135" width="9" height="1"/><rect x="392" y="135" width="1" height="4"/><rect x="401" y="135" width="9" height="1"/><rect x="401" y="135" width="1" height="4"/><rect x="410" y="135" width="8" height="1"/><rect x="410" y="135" width="1" height="4"/><rect x="418" y="135" width="9" height="1"/></g><g clip-path="url(#c19)"><rect x="387.19" y="24.14" width="1.11" height="4.45"/><rect x="396.09" y="24.14" width="1.11" height="4.45"/><rect x="405" y="24.14" width="1.11" height="4.45"/><rect x="413.9" y="24.14" width="1.11" height="4.45"/><rect x="387.19" y="33.03" width="1.11" height="4.45"/><rect x="391.64" y="28.59" width="1.11" height="4.45"/><rect x="396.09" y="33.03" width="1.11" height="4.45"/><rect x="400.55" y="28.59" width="1.11" height="4.45"/><rect x="405" y="33.03" width="1.11" height="4.45"/><rect x="409.45" y="28.59" width="1.11" height="4.45"/><rect x="413.9" y="33.03" width="1.11" height="4.45"/><rect x="418.35" y="28.59" width="1.11" height="4.45"/><rect x="387.19" y="41.93" width="1.11" height="4.45"/><rect x="391.64" y="37.48" width="1.11" height="4.45"/><rect x="396.09" y="41.93" width="1.11" height="4.45"/><rect x="400.55" y="37.48" width="1.11" height="4.45"/><rect x="405" y="41.93" width="1.11" height="4.45"/><rect x="409.45" y="37.48" width="1.11" height="4.45"/><rect x="413.9" y="41.93" width="1.11" height="4.45"/><rect x="418.35" y="37.48" width="1.11" height="4.45"/><rect x="387.19" y="50.82" width="1.11" height="4.45"/><rect x="391.64" y="46.37" width="1.11" height="4.45"/><rect x="396.09" y="50.82" width="1.11" height="4.45"/><rect x="400.55" y="46.37" width="1.11" height="4.45"/><rect x="405" y="50.82" width="1.11" height="4.45"/><rect x="409.45" y="46.37" width="1.11" height="4.45"/><rect x="413.9" y="50.82" width="1.11" height="4.45"/><rect x="418.35" y="46.37" width="1.11" height="4.45"/><rect x="387.19" y="59.71" width="1.11" height="4.45"/><rect x="391.64" y="55.26" width="1.11" height="4.45"/><rect x="396.09" y="59.71" width="1.11" height="4.45"/><rect x="400.55" y="55.26" width="1.11" height="4.45"/><rect x="405" y="59.71" width="1.11" height="4.45"/><rect x="409.45" y="55.26" width="1.11" height="4.45"/><rect x="413.9" y="59.71" width="1.11" height="4.45"/><rect x="418.35" y="55.26" width="1.11" height="4.45"/><rect x="387.19" y="68.59" width="1.11" height="4.45"/><rect x="391.64" y="64.15" width="1.11" height="4.45"/><rect x="396.09" y="68.59" width="1.11" height="4.45"/><rect x="400.55" y="64.15" width="1.11" height="4.45"/><rect x="405" y="68.59" width="1.11" height="4.45"/><rect x="409.45" y="64.15" width="1.11" height="4.45"/><rect x="413.9" y="68.59" width="1.11" height="4.45"/><rect x="418.35" y="64.15" width="1.11" height="4.45"/><rect x="387.19" y="77.49" width="1.11" height="4.45"/><rect x="391.64" y="73.04" width="1.11" height="4.45"/><rect x="396.09" y="77.49" width="1.11" height="4.45"/><rect x="400.55" y="73.04" width="1.11" height="4.45"/><rect x="405" y="77.49" width="1.11" height="4.45"/><rect x="409.45" y="73.04" width="1.11" height="4.45"/><rect x="413.9" y="77.49" width="1.11" height="4.45"/><rect x="418.35" y="73.04" width="1.11" height="4.45"/><rect x="387.19" y="86.38" width="1.11" height="4.45"/><rect x="391.64" y="81.93" width="1.11" height="4.45"/><rect x="396.09" y="86.38" width="1.11" height="4.45"/><rect x="400.55" y="81.93" width="1.11" height="4.45"/><rect x="405" y="86.38" width="1.11" height="4.45"/><rect x="409.45" y="81.93" width="1.11" height="4.45"/><rect x="413.9" y="86.38" width="1.11" height="4.45"/><rect x="418.35" y="81.93" width="1.11" height="4.45"/><rect x="387.19" y="95.27" width="1.11" height="4.45"/><rect x="391.64" y="90.82" width="1.11" height="4.45"/><rect x="396.09" y="95.27" width="1.11" height="4.45"/><rect x="400.55" y="90.82" width="1.11" height="4.45"/><rect x="405" y="95.27" width="1.11" height="4.45"/><rect x="409.45" y="90.82" width="1.11" height="4.45"/><rect x="413.9" y="95.27" width="1.11" height="4.45"/><rect x="418.35" y="90.82" width="1.11" height="4.45"/><rect x="387.19" y="104.16" width="1.11" height="4.45"/><rect x="391.64" y="99.71" width="1.11" height="4.45"/><rect x="396.09" y="104.16" width="1.11" height="4.45"/><rect x="400.55" y="99.71" width="1.11" height="4.45"/><rect x="405" y="104.16" width="1.11" height="4.45"/><rect x="409.45" y="99.71" width="1.11" height="4.45"/><rect x="413.9" y="104.16" width="1.11" height="4.45"/><rect x="418.35" y="99.71" width="1.11" height="4.45"/><rect x="387.19" y="113.05" width="1.11" height="4.45"/><rect x="391.64" y="108.6" width="1.11" height="4.45"/><rect x="396.09" y="113.05" width="1.11" height="4.45"/><rect x="400.55" y="108.6" width="1.11" height="4.45"/><rect x="405" y="113.05" width="1.11" height="4.45"/><rect x="409.45" y="108.6" width="1.11" height="4.45"/><rect x="413.9" y="113.05" width="1.11" height="4.45"/><rect x="418.35" y="108.6" width="1.11" height="4.45"/><rect x="387.19" y="121.94" width="1.11" height="4.45"/><rect x="391.64" y="117.49" width="1.11" height="4.45"/><rect x="396.09" y="121.94" width="1.11" height="4.45"/><rect x="400.55" y="117.49" width="1.11" height="4.45"/><rect x="405" y="121.94" width="1.11" height="4.45"/><rect x="409.45" y="117.49" width="1.11" height="4.45"/><rect x="413.9" y="121.94" width="1.11" height="4.45"/><rect x="418.35" y="117.49" width="1.11" height="4.45"/><rect x="391.64" y="126.38" width="1.11" height="4.45"/><rect x="400.55" y="126.38" width="1.11" height="4.45"/><rect x="409.45" y="126.38" width="1.11" height="4.45"/><rect x="418.35" y="126.38" width="1.11" height="4.45"/></g><g clip-path="url(#c20)"><rect x="387.5" y="11.3" width="31.3" height="15.8" fill="#000"/><g fill="#fff"><rect x="395.26" y="10.64" width="1.11" height="1.12"/><rect x="404.16" y="10.64" width="1.11" height="1.12"/><rect x="413.06" y="10.64" width="1.11" height="1.12"/><rect x="390.81" y="12.89" width="1.11" height="1.12"/><rect x="390.81" y="17.39" width="1.11" height="1.12"/><rect x="395.26" y="15.14" width="1.11" height="1.12"/><rect x="395.26" y="19.64" width="1.11" height="1.12"/><rect x="399.71" y="12.89" width="1.11" height="1.12"/><rect x="399.71" y="17.39" width="1.11" height="1.12"/><rect x="404.16" y="15.14" width="1.11" height="1.12"/><rect x="404.16" y="19.64" width="1.11" height="1.12"/><rect x="408.61" y="12.89" width="1.11" height="1.12"/><rect x="408.61" y="17.39" width="1.11" height="1.12"/><rect x="413.06" y="15.14" width="1.11" height="1.12"/><rect x="413.06" y="19.64" width="1.11" height="1.12"/><rect x="417.51" y="12.89" width="1.11" height="1.12"/><rect x="417.51" y="17.39" width="1.11" height="1.12"/><rect x="390.81" y="21.89" width="1.11" height="1.12"/><rect x="390.81" y="26.39" width="1.11" height="1.12"/><rect x="395.26" y="24.14" width="1.11" height="1.12"/><rect x="399.71" y="21.89" width="1.11" height="1.12"/><rect x="399.71" y="26.39" width="1.11" height="1.12"/><rect x="404.16" y="24.14" width="1.11" height="1.12"/><rect x="408.61" y="21.89" width="1.11" height="1.12"/><rect x="408.61" y="26.39" width="1.11" height="1.12"/><rect x="413.06" y="24.14" width="1.11" height="1.12"/><rect x="417.51" y="21.89" width="1.11" height="1.12"/><rect x="417.51" y="26.39" width="1.11" height="1.12"/></g></g><rect x="486.5" y="11.3" width="31.4" height="218.55" fill="#fff"/><g clip-path="url(#c21)"><path d="M484.23 218.95L493.14 227.95M493.14 218.95L484.23 227.95M493.14 218.95L502.04 227.95M502.04 218.95L493.14 227.95M502.04 218.95L510.94 227.95M510.94 218.95L502.04 227.95M510.94 218.95L519.84 227.95M519.84 218.95L510.94 227.95M484.23 227.95L493.14 236.95M493.14 227.95L484.23 236.95M493.14 227.95L502.04 236.95M502.04 227.95L493.14 236.95M502.04 227.95L510.94 236.95M510.94 227.95L502.04 236.95M510.94 227.95L519.84 236.95M519.84 227.95L510.94 236.95" stroke="#222" stroke-width="1.0" fill="none"/></g><g clip-path="url(#c22)"><rect x="485.24" y="157.8" width="4.45" height="4.5"/><rect x="489.69" y="162.3" width="4.45" height="4.5"/><rect x="494.14" y="157.8" width="4.45" height="4.5"/><rect x="498.59" y="162.3" width="4.45" height="4.5"/><rect x="503.04" y="157.8" width="4.45" height="4.5"/><rect x="507.49" y="162.3" width="4.45" height="4.5"/><rect x="511.94" y="157.8" width="4.45" height="4.5"/><rect x="516.4" y="162.3" width="4.45" height="4.5"/><rect x="485.24" y="166.8" width="4.45" height="4.5"/><rect x="489.69" y="171.3" width="4.45" height="4.5"/><rect x="494.14" y="166.8" width="4.45" height="4.5"/><rect x="498.59" y="171.3" width="4.45" height="4.5"/><rect x="503.04" y="166.8" width="4.45" height="4.5"/><rect x="507.49" y="171.3" width="4.45" height="4.5"/><rect x="511.94" y="166.8" width="4.45" height="4.5"/><rect x="516.4" y="171.3" width="4.45" height="4.5"/><rect x="485.24" y="175.8" width="4.45" height="4.5"/><rect x="489.69" y="180.3" width="4.45" height="4.5"/><rect x="494.14" y="175.8" width="4.45" height="4.5"/><rect x="498.59" y="180.3" width="4.45" height="4.5"/><rect x="503.04" y="175.8" width="4.45" height="4.5"/><rect x="507.49" y="180.3" width="4.45" height="4.5"/><rect x="511.94" y="175.8" width="4.45" height="4.5"/><rect x="516.4" y="180.3" width="4.45" height="4.5"/><rect x="485.24" y="184.8" width="4.45" height="4.5"/><rect x="489.69" y="189.3" width="4.45" height="4.5"/><rect x="494.14" y="184.8" width="4.45" height="4.5"/><rect x="498.59" y="189.3" width="4.45" height="4.5"/><rect x="503.04" y="184.8" width="4.45" height="4.5"/><rect x="507.49" y="189.3" width="4.45" height="4.5"/><rect x="511.94" y="184.8" width="4.45" height="4.5"/><rect x="516.4" y="189.3" width="4.45" height="4.5"/><rect x="485.24" y="193.8" width="4.45" height="4.5"/><rect x="489.69" y="198.3" width="4.45" height="4.5"/><rect x="494.14" y="193.8" width="4.45" height="4.5"/><rect x="498.59" y="198.3" width="4.45" height="4.5"/><rect x="503.04" y="193.8" width="4.45" height="4.5"/><rect x="507.49" y="198.3" width="4.45" height="4.5"/><rect x="511.94" y="193.8" width="4.45" height="4.5"/><rect x="516.4" y="198.3" width="4.45" height="4.5"/><rect x="485.24" y="202.8" width="4.45" height="4.5"/><rect x="489.69" y="207.3" width="4.45" height="4.5"/><rect x="494.14" y="202.8" width="4.45" height="4.5"/><rect x="498.59" y="207.3" width="4.45" height="4.5"/><rect x="503.04" y="202.8" width="4.45" height="4.5"/><rect x="507.49" y="207.3" width="4.45" height="4.5"/><rect x="511.94" y="202.8" width="4.45" height="4.5"/><rect x="516.4" y="207.3" width="4.45" height="4.5"/><rect x="485.24" y="211.8" width="4.45" height="4.5"/><rect x="489.69" y="216.3" width="4.45" height="4.5"/><rect x="494.14" y="211.8" width="4.45" height="4.5"/><rect x="498.59" y="216.3" width="4.45" height="4.5"/><rect x="503.04" y="211.8" width="4.45" height="4.5"/><rect x="507.49" y="216.3" width="4.45" height="4.5"/><rect x="511.94" y="211.8" width="4.45" height="4.5"/><rect x="516.4" y="216.3" width="4.45" height="4.5"/><rect x="485.24" y="220.8" width="4.45" height="4.5"/><rect x="494.14" y="220.8" width="4.45" height="4.5"/><rect x="503.04" y="220.8" width="4.45" height="4.5"/><rect x="511.94" y="220.8" width="4.45" height="4.5"/></g><g clip-path="url(#c23)"><rect x="480" y="153" width="9" height="1"/><rect x="480" y="158" width="9" height="1"/><rect x="489" y="153" width="8" height="1"/><rect x="489" y="154" width="1" height="4"/><rect x="489" y="158" width="8" height="1"/><rect x="493" y="158" width="1" height="5"/><rect x="497" y="153" width="9" height="1"/><rect x="497" y="154" width="1" height="4"/><rect x="497" y="158" width="9" height="1"/><rect x="502" y="158" width="1" height="5"/><rect x="506" y="153" width="9" height="1"/><rect x="506" y="154" width="1" height="4"/><rect x="506" y="158" width="9" height="1"/><rect x="511" y="158" width="1" height="5"/><rect x="515" y="153" width="9" height="1"/><rect x="515" y="154" width="1" height="4"/><rect x="515" y="158" width="9" height="1"/></g><g clip-path="url(#c24)"><rect x="489.58" y="10.81" width="1.11" height="4.45"/><rect x="494.03" y="15.25" width="1.11" height="4.45"/><rect x="498.48" y="10.81" width="1.11" height="4.45"/><rect x="502.93" y="15.25" width="1.11" height="4.45"/><rect x="507.38" y="10.81" width="1.11" height="4.45"/><rect x="511.83" y="15.25" width="1.11" height="4.45"/><rect x="516.28" y="10.81" width="1.11" height="4.45"/><rect x="489.58" y="19.7" width="1.11" height="4.45"/><rect x="494.03" y="24.14" width="1.11" height="4.45"/><rect x="498.48" y="19.7" width="1.11" height="4.45"/><rect x="502.93" y="24.14" width="1.11" height="4.45"/><rect x="507.38" y="19.7" width="1.11" height="4.45"/><rect x="511.83" y="24.14" width="1.11" height="4.45"/><rect x="516.28" y="19.7" width="1.11" height="4.45"/><rect x="489.58" y="28.59" width="1.11" height="4.45"/><rect x="494.03" y="33.03" width="1.11" height="4.45"/><rect x="498.48" y="28.59" width="1.11" height="4.45"/><rect x="502.93" y="33.03" width="1.11" height="4.45"/><rect x="507.38" y="28.59" width="1.11" height="4.45"/><rect x="511.83" y="33.03" width="1.11" height="4.45"/><rect x="516.28" y="28.59" width="1.11" height="4.45"/><rect x="489.58" y="37.48" width="1.11" height="4.45"/><rect x="494.03" y="41.93" width="1.11" height="4.45"/><rect x="498.48" y="37.48" width="1.11" height="4.45"/><rect x="502.93" y="41.93" width="1.11" height="4.45"/><rect x="507.38" y="37.48" width="1.11" height="4.45"/><rect x="511.83" y="41.93" width="1.11" height="4.45"/><rect x="516.28" y="37.48" width="1.11" height="4.45"/><rect x="489.58" y="46.37" width="1.11" height="4.45"/><rect x="494.03" y="50.82" width="1.11" height="4.45"/><rect x="498.48" y="46.37" width="1.11" height="4.45"/><rect x="502.93" y="50.82" width="1.11" height="4.45"/><rect x="507.38" y="46.37" width="1.11" height="4.45"/><rect x="511.83" y="50.82" width="1.11" height="4.45"/><rect x="516.28" y="46.37" width="1.11" height="4.45"/><rect x="489.58" y="55.26" width="1.11" height="4.45"/><rect x="494.03" y="59.71" width="1.11" height="4.45"/><rect x="498.48" y="55.26" width="1.11" height="4.45"/><rect x="502.93" y="59.71" width="1.11" height="4.45"/><rect x="507.38" y="55.26" width="1.11" height="4.45"/><rect x="511.83" y="59.71" width="1.11" height="4.45"/><rect x="516.28" y="55.26" width="1.11" height="4.45"/><rect x="489.58" y="64.15" width="1.11" height="4.45"/><rect x="494.03" y="68.59" width="1.11" height="4.45"/><rect x="498.48" y="64.15" width="1.11" height="4.45"/><rect x="502.93" y="68.59" width="1.11" height="4.45"/><rect x="507.38" y="64.15" width="1.11" height="4.45"/><rect x="511.83" y="68.59" width="1.11" height="4.45"/><rect x="516.28" y="64.15" width="1.11" height="4.45"/><rect x="489.58" y="73.04" width="1.11" height="4.45"/><rect x="494.03" y="77.49" width="1.11" height="4.45"/><rect x="498.48" y="73.04" width="1.11" height="4.45"/><rect x="502.93" y="77.49" width="1.11" height="4.45"/><rect x="507.38" y="73.04" width="1.11" height="4.45"/><rect x="511.83" y="77.49" width="1.11" height="4.45"/><rect x="516.28" y="73.04" width="1.11" height="4.45"/><rect x="489.58" y="81.93" width="1.11" height="4.45"/><rect x="494.03" y="86.38" width="1.11" height="4.45"/><rect x="498.48" y="81.93" width="1.11" height="4.45"/><rect x="502.93" y="86.38" width="1.11" height="4.45"/><rect x="507.38" y="81.93" width="1.11" height="4.45"/><rect x="511.83" y="86.38" width="1.11" height="4.45"/><rect x="516.28" y="81.93" width="1.11" height="4.45"/><rect x="489.58" y="90.82" width="1.11" height="4.45"/><rect x="494.03" y="95.27" width="1.11" height="4.45"/><rect x="498.48" y="90.82" width="1.11" height="4.45"/><rect x="502.93" y="95.27" width="1.11" height="4.45"/><rect x="507.38" y="90.82" width="1.11" height="4.45"/><rect x="511.83" y="95.27" width="1.11" height="4.45"/><rect x="516.28" y="90.82" width="1.11" height="4.45"/><rect x="489.58" y="99.71" width="1.11" height="4.45"/><rect x="494.03" y="104.16" width="1.11" height="4.45"/><rect x="498.48" y="99.71" width="1.11" height="4.45"/><rect x="502.93" y="104.16" width="1.11" height="4.45"/><rect x="507.38" y="99.71" width="1.11" height="4.45"/><rect x="511.83" y="104.16" width="1.11" height="4.45"/><rect x="516.28" y="99.71" width="1.11" height="4.45"/><rect x="489.58" y="108.6" width="1.11" height="4.45"/><rect x="498.48" y="108.6" width="1.11" height="4.45"/><rect x="507.38" y="108.6" width="1.11" height="4.45"/><rect x="516.28" y="108.6" width="1.11" height="4.45"/></g><g clip-path="url(#c25)"><rect x="488.48" y="108.2" width="1.11" height="4.45"/><rect x="492.93" y="112.65" width="1.11" height="4.45"/><rect x="497.38" y="108.2" width="1.11" height="4.45"/><rect x="501.83" y="112.65" width="1.11" height="4.45"/><rect x="506.28" y="108.2" width="1.11" height="4.45"/><rect x="510.73" y="112.65" width="1.11" height="4.45"/><rect x="515.18" y="108.2" width="1.11" height="4.45"/><rect x="488.48" y="117.09" width="1.11" height="4.45"/><rect x="492.93" y="121.53" width="1.11" height="4.45"/><rect x="497.38" y="117.09" width="1.11" height="4.45"/><rect x="501.83" y="121.53" width="1.11" height="4.45"/><rect x="506.28" y="117.09" width="1.11" height="4.45"/><rect x="510.73" y="121.53" width="1.11" height="4.45"/><rect x="515.18" y="117.09" width="1.11" height="4.45"/><rect x="488.48" y="125.98" width="1.11" height="4.45"/><rect x="492.93" y="130.43" width="1.11" height="4.45"/><rect x="497.38" y="125.98" width="1.11" height="4.45"/><rect x="501.83" y="130.43" width="1.11" height="4.45"/><rect x="506.28" y="125.98" width="1.11" height="4.45"/><rect x="510.73" y="130.43" width="1.11" height="4.45"/><rect x="515.18" y="125.98" width="1.11" height="4.45"/><rect x="488.48" y="134.87" width="1.11" height="4.45"/><rect x="492.93" y="139.31" width="1.11" height="4.45"/><rect x="497.38" y="134.87" width="1.11" height="4.45"/><rect x="501.83" y="139.31" width="1.11" height="4.45"/><rect x="506.28" y="134.87" width="1.11" height="4.45"/><rect x="510.73" y="139.31" width="1.11" height="4.45"/><rect x="515.18" y="134.87" width="1.11" height="4.45"/><rect x="488.48" y="143.76" width="1.11" height="4.45"/><rect x="492.93" y="148.21" width="1.11" height="4.45"/><rect x="497.38" y="143.76" width="1.11" height="4.45"/><rect x="501.83" y="148.21" width="1.11" height="4.45"/><rect x="506.28" y="143.76" width="1.11" height="4.45"/><rect x="510.73" y="148.21" width="1.11" height="4.45"/><rect x="515.18" y="143.76" width="1.11" height="4.45"/><rect x="488.48" y="152.65" width="1.11" height="4.45"/><rect x="497.38" y="152.65" width="1.11" height="4.45"/><rect x="506.28" y="152.65" width="1.11" height="4.45"/><rect x="515.18" y="152.65" width="1.11" height="4.45"/></g><rect x="587.3" y="11.3" width="31.5" height="218.55" fill="#fff"/><g clip-path="url(#c26)"><path d="M582.16 209.95L591.07 218.95M591.07 209.95L582.16 218.95M591.07 209.95L599.97 218.95M599.97 209.95L591.07 218.95M599.97 209.95L608.87 218.95M608.87 209.95L599.97 218.95M608.87 209.95L617.78 218.95M617.78 209.95L608.87 218.95M617.78 209.95L626.68 218.95M626.68 209.95L617.78 218.95M582.16 218.95L591.07 227.95M591.07 218.95L582.16 227.95M591.07 218.95L599.97 227.95M599.97 218.95L591.07 227.95M599.97 218.95L608.87 227.95M608.87 218.95L599.97 227.95M608.87 218.95L617.78 227.95M617.78 218.95L608.87 227.95M617.78 218.95L626.68 227.95M626.68 218.95L617.78 227.95M582.16 227.95L591.07 236.95M591.07 227.95L582.16 236.95M591.07 227.95L599.97 236.95M599.97 227.95L591.07 236.95M599.97 227.95L608.87 236.95M608.87 227.95L599.97 236.95M608.87 227.95L617.78 236.95M617.78 227.95L608.87 236.95M617.78 227.95L626.68 236.95M626.68 227.95L617.78 236.95" stroke="#222" stroke-width="1.0" fill="none"/></g><g clip-path="url(#c27)"><rect x="583.17" y="139.8" width="4.45" height="4.5"/><rect x="587.62" y="144.3" width="4.45" height="4.5"/><rect x="592.07" y="139.8" width="4.45" height="4.5"/><rect x="596.52" y="144.3" width="4.45" height="4.5"/><rect x="600.97" y="139.8" width="4.45" height="4.5"/><rect x="605.43" y="144.3" width="4.45" height="4.5"/><rect x="609.88" y="139.8" width="4.45" height="4.5"/><rect x="614.33" y="144.3" width="4.45" height="4.5"/><rect x="618.78" y="139.8" width="4.45" height="4.5"/><rect x="583.17" y="148.8" width="4.45" height="4.5"/><rect x="587.62" y="153.3" width="4.45" height="4.5"/><rect x="592.07" y="148.8" width="4.45" height="4.5"/><rect x="596.52" y="153.3" width="4.45" height="4.5"/><rect x="600.97" y="148.8" width="4.45" height="4.5"/><rect x="605.43" y="153.3" width="4.45" height="4.5"/><rect x="609.88" y="148.8" width="4.45" height="4.5"/><rect x="614.33" y="153.3" width="4.45" height="4.5"/><rect x="618.78" y="148.8" width="4.45" height="4.5"/><rect x="583.17" y="157.8" width="4.45" height="4.5"/><rect x="587.62" y="162.3" width="4.45" height="4.5"/><rect x="592.07" y="157.8" width="4.45" height="4.5"/><rect x="596.52" y="162.3" width="4.45" height="4.5"/><rect x="600.97" y="157.8" width="4.45" height="4.5"/><rect x="605.43" y="162.3" width="4.45" height="4.5"/><rect x="609.88" y="157.8" width="4.45" height="4.5"/><rect x="614.33" y="162.3" width="4.45" height="4.5"/><rect x="618.78" y="157.8" width="4.45" height="4.5"/><rect x="583.17" y="166.8" width="4.45" height="4.5"/><rect x="587.62" y="171.3" width="4.45" height="4.5"/><rect x="592.07" y="166.8" width="4.45" height="4.5"/><rect x="596.52" y="171.3" width="4.45" height="4.5"/><rect x="600.97" y="166.8" width="4.45" height="4.5"/><rect x="605.43" y="171.3" width="4.45" height="4.5"/><rect x="609.88" y="166.8" width="4.45" height="4.5"/><rect x="614.33" y="171.3" width="4.45" height="4.5"/><rect x="618.78" y="166.8" width="4.45" height="4.5"/><rect x="583.17" y="175.8" width="4.45" height="4.5"/><rect x="587.62" y="180.3" width="4.45" height="4.5"/><rect x="592.07" y="175.8" width="4.45" height="4.5"/><rect x="596.52" y="180.3" width="4.45" height="4.5"/><rect x="600.97" y="175.8" width="4.45" height="4.5"/><rect x="605.43" y="180.3" width="4.45" height="4.5"/><rect x="609.88" y="175.8" width="4.45" height="4.5"/><rect x="614.33" y="180.3" width="4.45" height="4.5"/><rect x="618.78" y="175.8" width="4.45" height="4.5"/><rect x="583.17" y="184.8" width="4.45" height="4.5"/><rect x="587.62" y="189.3" width="4.45" height="4.5"/><rect x="592.07" y="184.8" width="4.45" height="4.5"/><rect x="596.52" y="189.3" width="4.45" height="4.5"/><rect x="600.97" y="184.8" width="4.45" height="4.5"/><rect x="605.43" y="189.3" width="4.45" height="4.5"/><rect x="609.88" y="184.8" width="4.45" height="4.5"/><rect x="614.33" y="189.3" width="4.45" height="4.5"/><rect x="618.78" y="184.8" width="4.45" height="4.5"/><rect x="583.17" y="193.8" width="4.45" height="4.5"/><rect x="587.62" y="198.3" width="4.45" height="4.5"/><rect x="592.07" y="193.8" width="4.45" height="4.5"/><rect x="596.52" y="198.3" width="4.45" height="4.5"/><rect x="600.97" y="193.8" width="4.45" height="4.5"/><rect x="605.43" y="198.3" width="4.45" height="4.5"/><rect x="609.88" y="193.8" width="4.45" height="4.5"/><rect x="614.33" y="198.3" width="4.45" height="4.5"/><rect x="618.78" y="193.8" width="4.45" height="4.5"/><rect x="583.17" y="202.8" width="4.45" height="4.5"/><rect x="587.62" y="207.3" width="4.45" height="4.5"/><rect x="592.07" y="202.8" width="4.45" height="4.5"/><rect x="596.52" y="207.3" width="4.45" height="4.5"/><rect x="600.97" y="202.8" width="4.45" height="4.5"/><rect x="605.43" y="207.3" width="4.45" height="4.5"/><rect x="609.88" y="202.8" width="4.45" height="4.5"/><rect x="614.33" y="207.3" width="4.45" height="4.5"/><rect x="618.78" y="202.8" width="4.45" height="4.5"/></g><g clip-path="url(#c28)"><rect x="583" y="139" width="9" height="1"/><rect x="583" y="143" width="9" height="1"/><rect x="592" y="139" width="9" height="1"/><rect x="592" y="139" width="1" height="5"/><rect x="592" y="143" width="9" height="1"/><rect x="601" y="139" width="9" height="1"/><rect x="601" y="139" width="1" height="5"/><rect x="601" y="143" width="9" height="1"/><rect x="610" y="139" width="9" height="1"/><rect x="610" y="139" width="1" height="5"/><rect x="610" y="143" width="9" height="1"/></g><g clip-path="url(#c29)"><rect x="587.51" y="19.7" width="1.11" height="4.45"/><rect x="591.96" y="24.14" width="1.11" height="4.45"/><rect x="596.41" y="19.7" width="1.11" height="4.45"/><rect x="600.86" y="24.14" width="1.11" height="4.45"/><rect x="605.31" y="19.7" width="1.11" height="4.45"/><rect x="609.77" y="24.14" width="1.11" height="4.45"/><rect x="614.22" y="19.7" width="1.11" height="4.45"/><rect x="618.67" y="24.14" width="1.11" height="4.45"/><rect x="587.51" y="28.59" width="1.11" height="4.45"/><rect x="591.96" y="33.03" width="1.11" height="4.45"/><rect x="596.41" y="28.59" width="1.11" height="4.45"/><rect x="600.86" y="33.03" width="1.11" height="4.45"/><rect x="605.31" y="28.59" width="1.11" height="4.45"/><rect x="609.77" y="33.03" width="1.11" height="4.45"/><rect x="614.22" y="28.59" width="1.11" height="4.45"/><rect x="618.67" y="33.03" width="1.11" height="4.45"/><rect x="587.51" y="37.48" width="1.11" height="4.45"/><rect x="591.96" y="41.93" width="1.11" height="4.45"/><rect x="596.41" y="37.48" width="1.11" height="4.45"/><rect x="600.86" y="41.93" width="1.11" height="4.45"/><rect x="605.31" y="37.48" width="1.11" height="4.45"/><rect x="609.77" y="41.93" width="1.11" height="4.45"/><rect x="614.22" y="37.48" width="1.11" height="4.45"/><rect x="618.67" y="41.93" width="1.11" height="4.45"/><rect x="587.51" y="46.37" width="1.11" height="4.45"/><rect x="591.96" y="50.82" width="1.11" height="4.45"/><rect x="596.41" y="46.37" width="1.11" height="4.45"/><rect x="600.86" y="50.82" width="1.11" height="4.45"/><rect x="605.31" y="46.37" width="1.11" height="4.45"/><rect x="609.77" y="50.82" width="1.11" height="4.45"/><rect x="614.22" y="46.37" width="1.11" height="4.45"/><rect x="618.67" y="50.82" width="1.11" height="4.45"/><rect x="587.51" y="55.26" width="1.11" height="4.45"/><rect x="591.96" y="59.71" width="1.11" height="4.45"/><rect x="596.41" y="55.26" width="1.11" height="4.45"/><rect x="600.86" y="59.71" width="1.11" height="4.45"/><rect x="605.31" y="55.26" width="1.11" height="4.45"/><rect x="609.77" y="59.71" width="1.11" height="4.45"/><rect x="614.22" y="55.26" width="1.11" height="4.45"/><rect x="618.67" y="59.71" width="1.11" height="4.45"/><rect x="587.51" y="64.15" width="1.11" height="4.45"/><rect x="591.96" y="68.59" width="1.11" height="4.45"/><rect x="596.41" y="64.15" width="1.11" height="4.45"/><rect x="600.86" y="68.59" width="1.11" height="4.45"/><rect x="605.31" y="64.15" width="1.11" height="4.45"/><rect x="609.77" y="68.59" width="1.11" height="4.45"/><rect x="614.22" y="64.15" width="1.11" height="4.45"/><rect x="618.67" y="68.59" width="1.11" height="4.45"/><rect x="587.51" y="73.04" width="1.11" height="4.45"/><rect x="591.96" y="77.49" width="1.11" height="4.45"/><rect x="596.41" y="73.04" width="1.11" height="4.45"/><rect x="600.86" y="77.49" width="1.11" height="4.45"/><rect x="605.31" y="73.04" width="1.11" height="4.45"/><rect x="609.77" y="77.49" width="1.11" height="4.45"/><rect x="614.22" y="73.04" width="1.11" height="4.45"/><rect x="618.67" y="77.49" width="1.11" height="4.45"/><rect x="587.51" y="81.93" width="1.11" height="4.45"/><rect x="591.96" y="86.38" width="1.11" height="4.45"/><rect x="596.41" y="81.93" width="1.11" height="4.45"/><rect x="600.86" y="86.38" width="1.11" height="4.45"/><rect x="605.31" y="81.93" width="1.11" height="4.45"/><rect x="609.77" y="86.38" width="1.11" height="4.45"/><rect x="614.22" y="81.93" width="1.11" height="4.45"/><rect x="618.67" y="86.38" width="1.11" height="4.45"/><rect x="587.51" y="90.82" width="1.11" height="4.45"/><rect x="591.96" y="95.27" width="1.11" height="4.45"/><rect x="596.41" y="90.82" width="1.11" height="4.45"/><rect x="600.86" y="95.27" width="1.11" height="4.45"/><rect x="605.31" y="90.82" width="1.11" height="4.45"/><rect x="609.77" y="95.27" width="1.11" height="4.45"/><rect x="614.22" y="90.82" width="1.11" height="4.45"/><rect x="618.67" y="95.27" width="1.11" height="4.45"/><rect x="587.51" y="99.71" width="1.11" height="4.45"/><rect x="591.96" y="104.16" width="1.11" height="4.45"/><rect x="596.41" y="99.71" width="1.11" height="4.45"/><rect x="600.86" y="104.16" width="1.11" height="4.45"/><rect x="605.31" y="99.71" width="1.11" height="4.45"/><rect x="609.77" y="104.16" width="1.11" height="4.45"/><rect x="614.22" y="99.71" width="1.11" height="4.45"/><rect x="618.67" y="104.16" width="1.11" height="4.45"/><rect x="587.51" y="108.6" width="1.11" height="4.45"/><rect x="591.96" y="113.05" width="1.11" height="4.45"/><rect x="596.41" y="108.6" width="1.11" height="4.45"/><rect x="600.86" y="113.05" width="1.11" height="4.45"/><rect x="605.31" y="108.6" width="1.11" height="4.45"/><rect x="609.77" y="113.05" width="1.11" height="4.45"/><rect x="614.22" y="108.6" width="1.11" height="4.45"/><rect x="618.67" y="113.05" width="1.11" height="4.45"/><rect x="587.51" y="117.49" width="1.11" height="4.45"/><rect x="591.96" y="121.94" width="1.11" height="4.45"/><rect x="596.41" y="117.49" width="1.11" height="4.45"/><rect x="600.86" y="121.94" width="1.11" height="4.45"/><rect x="605.31" y="117.49" width="1.11" height="4.45"/><rect x="609.77" y="121.94" width="1.11" height="4.45"/><rect x="614.22" y="117.49" width="1.11" height="4.45"/><rect x="618.67" y="121.94" width="1.11" height="4.45"/><rect x="587.51" y="126.38" width="1.11" height="4.45"/><rect x="591.96" y="130.83" width="1.11" height="4.45"/><rect x="596.41" y="126.38" width="1.11" height="4.45"/><rect x="600.86" y="130.83" width="1.11" height="4.45"/><rect x="605.31" y="126.38" width="1.11" height="4.45"/><rect x="609.77" y="130.83" width="1.11" height="4.45"/><rect x="614.22" y="126.38" width="1.11" height="4.45"/><rect x="618.67" y="130.83" width="1.11" height="4.45"/><rect x="587.51" y="135.27" width="1.11" height="4.45"/><rect x="596.41" y="135.27" width="1.11" height="4.45"/><rect x="605.31" y="135.27" width="1.11" height="4.45"/><rect x="614.22" y="135.27" width="1.11" height="4.45"/></g><g clip-path="url(#c30)"><rect x="587.3" y="11.3" width="31.5" height="9.1" fill="#000"/><g fill="#fff"><rect x="591.12" y="10.64" width="1.11" height="1.12"/><rect x="600.03" y="10.64" width="1.11" height="1.12"/><rect x="608.93" y="10.64" width="1.11" height="1.12"/><rect x="617.83" y="10.64" width="1.11" height="1.12"/><rect x="586.67" y="12.89" width="1.11" height="1.12"/><rect x="586.67" y="17.39" width="1.11" height="1.12"/><rect x="591.12" y="15.14" width="1.11" height="1.12"/><rect x="591.12" y="19.64" width="1.11" height="1.12"/><rect x="595.58" y="12.89" width="1.11" height="1.12"/><rect x="595.58" y="17.39" width="1.11" height="1.12"/><rect x="600.03" y="15.14" width="1.11" height="1.12"/><rect x="600.03" y="19.64" width="1.11" height="1.12"/><rect x="604.48" y="12.89" width="1.11" height="1.12"/><rect x="604.48" y="17.39" width="1.11" height="1.12"/><rect x="608.93" y="15.14" width="1.11" height="1.12"/><rect x="608.93" y="19.64" width="1.11" height="1.12"/><rect x="613.38" y="12.89" width="1.11" height="1.12"/><rect x="613.38" y="17.39" width="1.11" height="1.12"/><rect x="617.83" y="15.14" width="1.11" height="1.12"/><rect x="617.83" y="19.64" width="1.11" height="1.12"/></g></g><g clip-path="url(#c31)"><rect x="173.1" y="266.9" width="13.1" height="13" fill="#000"/><g fill="#fff"><rect x="176.74" y="266.96" width="1.12" height="1.1"/><rect x="185.74" y="266.96" width="1.12" height="1.1"/><rect x="172.24" y="269.16" width="1.12" height="1.1"/><rect x="172.24" y="273.56" width="1.12" height="1.1"/><rect x="176.74" y="271.36" width="1.12" height="1.1"/><rect x="176.74" y="275.76" width="1.12" height="1.1"/><rect x="181.24" y="269.16" width="1.12" height="1.1"/><rect x="181.24" y="273.56" width="1.12" height="1.1"/><rect x="185.74" y="271.36" width="1.12" height="1.1"/><rect x="185.74" y="275.76" width="1.12" height="1.1"/><rect x="172.24" y="277.96" width="1.12" height="1.1"/><rect x="181.24" y="277.96" width="1.12" height="1.1"/></g></g><g clip-path="url(#c32)"><rect x="178" y="287.5" width="1" height="4.4"/><rect x="173" y="291.9" width="1" height="4.4"/><rect x="178" y="296.3" width="1" height="4.4"/><rect x="182" y="291.9" width="1" height="4.4"/><rect x="173" y="300.7" width="1" height="4.4"/><rect x="182" y="300.7" width="1" height="4.4"/></g><g clip-path="url(#c33)"><rect x="169" y="315" width="9" height="1"/><rect x="169" y="319" width="9" height="1"/><rect x="173" y="319" width="1" height="4"/><rect x="178" y="315" width="9" height="1"/><rect x="178" y="315" width="1" height="4"/><rect x="178" y="319" width="9" height="1"/><rect x="182" y="319" width="1" height="4"/><rect x="169" y="323" width="9" height="1"/><rect x="169" y="327" width="9" height="1"/><rect x="178" y="323" width="9" height="1"/><rect x="178" y="324" width="1" height="4"/><rect x="178" y="327" width="9" height="1"/></g><g clip-path="url(#c34)"><rect x="168.9" y="340.1" width="4.5" height="4.5"/><rect x="173.4" y="335.6" width="4.5" height="4.5"/><rect x="177.9" y="340.1" width="4.5" height="4.5"/><rect x="182.4" y="335.6" width="4.5" height="4.5"/><rect x="168.9" y="349.1" width="4.5" height="4.5"/><rect x="173.4" y="344.6" width="4.5" height="4.5"/><rect x="177.9" y="349.1" width="4.5" height="4.5"/><rect x="182.4" y="344.6" width="4.5" height="4.5"/></g><g clip-path="url(#c35)"><path d="M173 354.25L182 363.05M182 354.25L173 363.05M182 354.25L191 363.05M191 354.25L182 363.05M173 363.05L182 371.85M182 363.05L173 371.85M182 363.05L191 371.85M191 363.05L182 371.85M173 371.85L182 380.65M182 371.85L173 380.65M182 371.85L191 380.65M191 371.85L182 380.65" stroke="#222" stroke-width="1.0" fill="none"/></g></g>
<g><text x="41.3" y="15.75" text-anchor="end">100%</text><text x="41.3" y="37.53" text-anchor="end">90%</text><text x="41.3" y="60.22" text-anchor="end">80%</text><text x="41.3" y="81.1" text-anchor="end">70%</text><text x="41.3" y="102.89" text-anchor="end">60%</text><text x="41.3" y="124.67" text-anchor="end">50%</text><text x="41.3" y="147.36" text-anchor="end">40%</text><text x="41.3" y="168.94" text-anchor="end">30%</text><text x="41.3" y="190.73" text-anchor="end">20%</text><text x="41.3" y="211.81" text-anchor="end">10%</text><text x="41.3" y="233.6" text-anchor="end">0%</text><text x="102.55" y="249.7" text-anchor="middle">2014</text><text x="202.75" y="249.7" text-anchor="middle">2015</text><text x="302.95" y="249.7" text-anchor="middle">2016</text><text x="403.15" y="249.7" text-anchor="middle">2017</text><text x="503.35" y="249.7" text-anchor="middle">2018</text><text x="603.55" y="249.7" text-anchor="middle">2019</text></g>
<g><text x="192.7" y="278.25">Officials from other countries/non-Syrian organisations</text><text x="192.7" y="302.15">Journalists</text><text x="192.7" y="324.9">Other Syrian actors (media, businessmen, students, etc.)</text><text x="192.7" y="348.95" textLength="248" lengthAdjust="spacing">Syrian officials (premier, minister, etc.)</text><text x="192.7" y="371.6">Syrian president</text></g>
</svg>
</body></html>
